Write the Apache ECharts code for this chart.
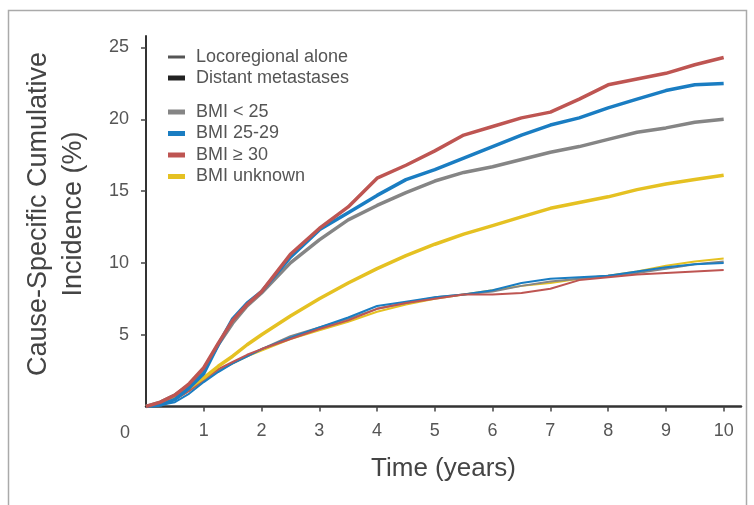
<!DOCTYPE html>
<html>
<head>
<meta charset="utf-8">
<script src="https://cdn.jsdelivr.net/npm/echarts@6/dist/echarts.min.js"></script>
<style>html,body{margin:0;padding:0;background:#fff;}#c{width:754px;height:505px;}</style>
</head>
<body>
<div id="c"></div>
<script>
// Time points (years)
var times = [0,0.25,0.5,0.75,1,1.25,1.5,1.75,2,2.5,3,3.5,4,4.5,5,5.5,6,6.5,7,7.5,8,8.5,9,9.5,10];

// Distant metastases (thick lines)
var distBmiLow     = [0,0.3,0.8,1.5,2.6,4.3,5.8,7.0,7.9,10.0,11.6,13.0,14.0,14.9,15.7,16.3,16.7,17.2,17.7,18.1,18.6,19.1,19.4,19.8,20.0];
var distBmiMid     = [0,0.1,0.5,1.3,2.3,4.3,6.1,7.2,8.0,10.4,12.3,13.5,14.7,15.8,16.5,17.3,18.1,18.9,19.6,20.1,20.8,21.4,22.0,22.4,22.5];
var distBmiHigh    = [0,0.3,0.8,1.6,2.7,4.4,6.0,7.1,8.0,10.6,12.4,13.9,15.9,16.8,17.8,18.9,19.5,20.1,20.5,21.4,22.4,22.8,23.2,23.8,24.3];
var distBmiUnknown = [0,0.2,0.6,1.3,2.0,2.8,3.5,4.3,5.0,6.3,7.5,8.6,9.6,10.5,11.3,12.0,12.6,13.2,13.8,14.2,14.6,15.1,15.5,15.8,16.1];

// Locoregional alone (thin lines)
var locoBmiLow     = [0,0.2,0.5,1.1,1.8,2.5,3.0,3.5,4.0,4.9,5.5,6.1,6.8,7.2,7.6,7.8,8.0,8.4,8.7,8.9,9.1,9.3,9.6,9.9,10.1];
var locoBmiMid     = [0,0.1,0.3,0.9,1.7,2.4,3.0,3.5,4.0,4.8,5.5,6.2,7.0,7.3,7.6,7.8,8.1,8.6,8.9,9.0,9.1,9.4,9.7,9.9,10.0];
var locoBmiHigh    = [0,0.2,0.5,1.1,1.9,2.6,3.1,3.6,4.0,4.7,5.4,6.0,6.8,7.2,7.5,7.8,7.8,7.9,8.2,8.8,9.0,9.2,9.3,9.4,9.5];
var locoBmiUnknown = [0,0.2,0.5,1.1,1.8,2.5,3.0,3.5,3.9,4.7,5.3,5.9,6.6,7.1,7.5,7.8,8.1,8.4,8.6,8.9,9.1,9.4,9.8,10.1,10.3];

var groupNames = ['BMI < 25', 'BMI 25-29', 'BMI \u2265 30', 'BMI unknown'];
var typeNames = ['Locoregional alone', 'Distant metastases'];
var xTicks = [1,2,3,4,5,6,7,8,9,10];
var yTicks = [5,10,15,20,25];

var colors = ['#858585', '#1a7dc2', '#be5552', '#e5c122'];
var font = "'Liberation Sans',Arial,sans-serif";

function pairs(vals){ return times.map(function(t,i){ return [t, vals[i]]; }); }

var distant = [distBmiLow, distBmiMid, distBmiHigh, distBmiUnknown];
var loco = [locoBmiLow, locoBmiMid, locoBmiHigh, locoBmiUnknown];

var series = [
  {name: typeNames[0], type: 'line', data: [], color: '#555', showSymbol: false},
  {name: typeNames[1], type: 'line', data: [], color: '#222', showSymbol: false}
];
[3,0,1,2].forEach(function(g){
  series.push({name: groupNames[g], type: 'line', data: pairs(loco[g]), showSymbol: false, color: colors[g],
    lineStyle: {width: 2, color: colors[g]}, z: 2});
});
[3,0,1,2].forEach(function(g){
  series.push({name: groupNames[g], type: 'line', data: pairs(distant[g]), showSymbol: false, color: colors[g],
    lineStyle: {width: 3.5, color: colors[g]}, z: 3});
});

var legendText = {fontSize: 18, color: '#555', fontFamily: font, padding: [0,0,0,6]};

var chart = echarts.init(document.getElementById('c'), null, {renderer: 'canvas'});
chart.setOption({
  animation: false,
  backgroundColor: '#fff',
  grid: {left: 146, right: 13, top: 36, bottom: 98.5},
  xAxis: {
    type: 'value', min: 0, max: 10.3,
    name: 'Time (years)', nameLocation: 'middle', nameGap: 49,
    nameTextStyle: {fontSize: 26, color: '#444', fontFamily: font},
    axisLine: {show: true, lineStyle: {color: '#333', width: 2.5}},
    axisTick: {show: true, length: 5, inside: false, customValues: xTicks, lineStyle: {color: '#444', width: 1.5}},
    axisLabel: {customValues: xTicks, fontSize: 18, color: '#555', margin: 16, fontFamily: font},
    splitLine: {show: false}
  },
  yAxis: {
    type: 'value', min: 0, max: 25.8,
    axisLine: {show: true, lineStyle: {color: '#333', width: 2}},
    axisTick: {show: true, length: 5, inside: false, customValues: yTicks, lineStyle: {color: '#444', width: 1.5}},
    axisLabel: {customValues: yTicks, fontSize: 18, color: '#555', margin: 17, fontFamily: font},
    splitLine: {show: false}
  },
  legend: [
    {data: [typeNames[0]], orient: 'vertical', left: 163, top: 43, icon: 'rect', itemWidth: 17, itemHeight: 3, textStyle: legendText},
    {data: [typeNames[1]], orient: 'vertical', left: 163, top: 64, icon: 'rect', itemWidth: 17, itemHeight: 5, textStyle: legendText},
    {data: groupNames, orient: 'vertical', left: 163, top: 98, icon: 'rect', itemWidth: 17, itemHeight: 5, itemGap: 3.5, textStyle: legendText}
  ],
  graphic: [
    {type: 'rect', shape: {x: 8.5, y: 10.5, width: 738, height: 520}, style: {fill: 'none', stroke: '#aaa', lineWidth: 1.5}, silent: true},
    {type: 'text', x: 56, y: 214, rotation: Math.PI/2,
      style: {text: 'Cause-Specific Cumulative\nIncidence (%)', align: 'center', verticalAlign: 'middle',
        fontSize: 27, lineHeight: 35, fill: '#444', fontFamily: font}},
    {type: 'text', x: 125, y: 433, style: {text: '0', align: 'center', verticalAlign: 'middle', fontSize: 18, fill: '#555', fontFamily: font}}
  ],
  series: series
});
</script>
</body>
</html>
